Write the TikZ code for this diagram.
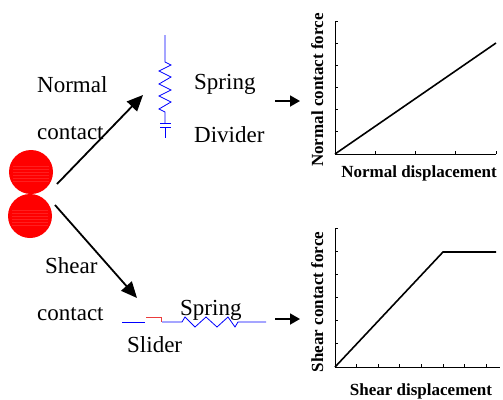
\documentclass[tikz,border=0pt]{standalone}
\usepackage{fontspec}
\setmainfont{Liberation Serif}
\usetikzlibrary{arrows.meta}
\definecolor{sliderred}{RGB}{235,60,60}
\tikzset{
  lbl/.style={font=\fontsize{23}{26}\selectfont,inner sep=0pt,anchor=base west},
  axlbl/.style={font=\bfseries\fontsize{17}{19}\selectfont,inner sep=0pt,anchor=base},
  bigarrow/.style={line width=1.8pt,-{Triangle[length=16pt,width=14pt]}},
  smallarrow/.style={line width=1.8pt,-{Triangle[length=10pt,width=11pt]}},
  wire/.style={blue,line width=0.8pt},
  axis/.style={line width=0.7pt},
  curve/.style={line width=1.6pt}
}
\begin{document}
\begin{tikzpicture}[x=1pt,y=-1pt]
  \useasboundingbox (0,0) rectangle (503,399);
  % two particles in contact
  \fill[red] (31,172) circle (22) (30,216) circle (22);
  \foreach \y in {166,169,...,181} \draw[red!88!white,line width=0.5pt] (13,\y) -- (49,\y);
  \foreach \y in {210,213,...,225} \draw[red!88!white,line width=0.5pt] (12,\y) -- (48,\y);
  \coordinate (ntail) at (57,184);
  \coordinate (stail) at (55,205);
  \coordinate (nhead) at (143,95);
  \coordinate (shead) at (137,298);

  \node[lbl] (normal) at (37,92) {Normal};
  \node[lbl] (ncontact) at (37,139) {contact};
  \node[lbl] (shear) at (45,273) {Shear};
  \node[lbl] (scontact) at (37,320) {contact};
  \draw[bigarrow] (ntail) -- (nhead);
  \draw[bigarrow] (stail) -- (shead);

  % normal: spring and divider
  \draw[wire] (165,35) -- (165,62) -- (171,65) -- (159,71) -- (171,77) -- (159,84)
    -- (171,90) -- (159,96) -- (171,102) -- (159,109) -- (165,112) -- (165,123);
  \draw[wire] (160,123) -- (171,123) (160,127) -- (171,127) (165,127) -- (165,138);
  \node[lbl] (nspring) at (194,89) {Spring};
  \node[lbl] (divider) at (194,142) {Divider};

  % shear: slider and spring
  \draw[wire] (122,322) -- (145,322);
  \draw[sliderred,line width=1pt] (146,317) -- (161,317) -- (161,322);
  \draw[wire] (162,322) -- (182,322) -- (185,317) -- (195,327) -- (206,317) -- (217,327)
    -- (228,317) -- (235,327) -- (238,322) -- (266,322);
  \node[lbl] (sspring) at (180,315) {Spring};
  \node[lbl] (slider) at (127,352) {Slider};

  \coordinate (na) at (275,101);
  \coordinate (nb) at (300,101);
  \coordinate (sa) at (275,319);
  \coordinate (sb) at (300,319);
  \draw[smallarrow] (na) -- (nb);
  \draw[smallarrow] (sa) -- (sb);

  % normal force vs displacement
  \draw[axis] (335,21) -- (335,154) -- (496,154);
  \foreach \i in {0,...,6} \draw[axis] (335,154-\i*22.17) -- ++(3,0);
  \foreach \i in {1,...,4} \draw[axis] (335+\i*40.25,154) -- ++(0,-3);
  \draw[curve] (335,154) -- (496,43);
  \node[axlbl,rotate=90] (nforce) at (323,90) {Normal contact force};
  \node[axlbl] (ndisp) at (419,177) {Normal displacement};

  % shear force vs displacement
  \draw[axis] (335,228) -- (335,367) -- (500,367);
  \foreach \i in {0,...,6} \draw[axis] (335,367-\i*23.17) -- ++(3,0);
  \foreach \i in {1,...,7} \draw[axis] (335+\i*21.6,367) -- ++(0,-3);
  \draw[curve] (335,367) -- (443,252) -- (496,252);
  \node[axlbl,rotate=90] (sforce) at (323,302) {Shear contact force};
  \node[axlbl] (sdisp) at (421,395) {Shear displacement};
\end{tikzpicture}
\end{document}
